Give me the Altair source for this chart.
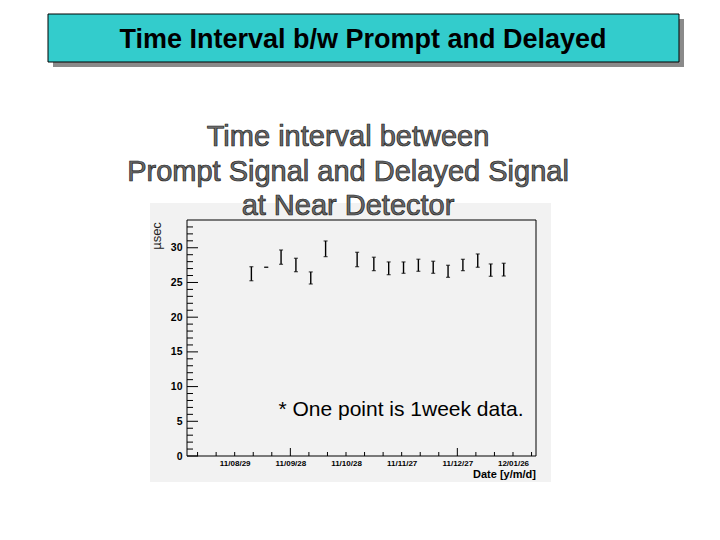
import altair as alt
import pandas as pd

# ---- data ----
dates = ["2011-09-07", "2011-09-15", "2011-09-23", "2011-10-01", "2011-10-09", "2011-10-17",
         "2011-11-03", "2011-11-12", "2011-11-20", "2011-11-28", "2011-12-06", "2011-12-14",
         "2011-12-22", "2011-12-30", "2012-01-07", "2012-01-14", "2012-01-21"]
mean_us = [26.26, 27.19, 28.65, 27.52, 25.65, 29.85, 28.31, 27.67, 27.04, 27.14, 27.48,
           27.19, 26.61, 27.52, 28.15, 26.78, 26.85]
err_us = [1.01, 0.0, 1.03, 0.97, 0.87, 1.13, 1.04, 0.97, 0.92, 0.82, 0.87, 0.87, 0.87,
          0.82, 0.96, 0.89, 0.92]
base_date = "2011-08-29"
tick_days = [0, 30, 60, 90, 120, 150]
tick_labels = ["11/08/29", "11/09/28", "11/10/28", "11/11/27", "11/12/27", "12/01/26"]
y_ticks = [0, 5, 10, 15, 20, 25, 30]

slide_title = "Time Interval b/w Prompt and Delayed"
plot_title = ["Time interval between", "Prompt Signal and Delayed Signal", "at Near Detector"]
note = "* One point is 1week data."

FONT = "Liberation Sans"
W, H = 349, 236
XDOM = [-25.7, 162.4]
YDOM = [0, 34]

df = pd.DataFrame({"date": pd.to_datetime(dates), "mean": mean_us, "err": err_us})
df["day"] = (df["date"] - pd.Timestamp(base_date)).dt.days
df["lo"] = df["mean"] - df["err"]
df["hi"] = df["mean"] + df["err"]

xs = alt.Scale(domain=XDOM, nice=False, zero=False)
ys = alt.Scale(domain=YDOM, nice=False, zero=False)

label_expr = "[" + ",".join("'%s'" % t for t in tick_labels) + "][round(datum.value/30)]"

XA = alt.Axis(values=tick_days, labelExpr=label_expr, ticks=False, domain=False,
              grid=False, labelFont=FONT, labelFontSize=8, labelFontWeight="bold",
              labelColor="black", labelPadding=3, zindex=2, labelOverlap=False)
YA = alt.Axis(values=y_ticks, ticks=False, domain=False, grid=False,
              labelFont=FONT, labelFontSize=10.5, labelFontWeight="bold",
              labelColor="black", labelPadding=5, zindex=2, labelOverlap=False,
              labelFlush=False)


def X(field):
    return alt.X(field, scale=xs, axis=XA, title=None)


def Y(field):
    return alt.Y(field, scale=ys, axis=YA, title=None)


one = pd.DataFrame({"k": [0]})


def deco_text(txt, x, y, **kw):
    return alt.Chart(one).mark_text(font=FONT, baseline="middle", **kw).encode(
        x=alt.value(x), y=alt.value(y), text=alt.value(txt))


# slide title box
shadow = alt.Chart(one).mark_rect(fill="#8a8a8a").encode(
    x=alt.value(-134), x2=alt.value(497), y=alt.value(-201), y2=alt.value(-153))
box = alt.Chart(one).mark_rect(fill="#33CCCC", stroke="black", strokeWidth=1).encode(
    x=alt.value(-139), x2=alt.value(492), y=alt.value(-206), y2=alt.value(-158))
box_text = deco_text(slide_title, 176, -180, fontSize=27, fontWeight="bold",
                     color="black", align="center")

# grey ROOT canvas panel
panel = alt.Chart(one).mark_rect(fill="#f2f2f2").encode(
    x=alt.value(-37), x2=alt.value(364), y=alt.value(-17), y2=alt.value(262))
frame = alt.Chart(one).mark_rect(fill="#f2f2f2", stroke="black", strokeWidth=1).encode(
    x=alt.value(0), x2=alt.value(W), y=alt.value(0), y2=alt.value(H))

# plot title lines
title_layers = [
    deco_text(line, 161, yy, fontSize=29, fill="#6a6a6a", stroke="#1a1a1a",
              strokeWidth=0.7, align="center")
    for line, yy in zip(plot_title, [-83, -48, -14])
]

# error bars
stems = alt.Chart(df).mark_rule(color="black", strokeWidth=1.4).encode(
    x=X("day:Q"), y=Y("lo:Q"), y2="hi:Q")
caps_lo = alt.Chart(df).mark_tick(color="black", orient="horizontal", size=4, thickness=1.2).encode(
    x=X("day:Q"), y=Y("lo:Q"))
caps_hi = alt.Chart(df).mark_tick(color="black", orient="horizontal", size=4, thickness=1.2).encode(
    x=X("day:Q"), y=Y("hi:Q"))

# inward ticks (ROOT style)
ymaj = pd.DataFrame({"v": y_ticks})
ymin = pd.DataFrame({"v": [v for v in range(1, 34) if v % 5 != 0]})
ytick_maj = alt.Chart(ymaj).mark_rule(color="black", strokeWidth=1).encode(
    y=Y("v:Q"), x=alt.value(0), x2=alt.value(11))
ytick_min = alt.Chart(ymin).mark_rule(color="black", strokeWidth=1).encode(
    y=Y("v:Q"), x=alt.value(0), x2=alt.value(6))
xmaj = pd.DataFrame({"v": [30, 120]})
xmin = pd.DataFrame({"v": [v for v in range(-20, 161, 10) if v not in (30, 120)]})
xtick_maj = alt.Chart(xmaj).mark_rule(color="black", strokeWidth=1).encode(
    x=X("v:Q"), y=alt.value(H), y2=alt.value(H - 8))
xtick_min = alt.Chart(xmin).mark_rule(color="black", strokeWidth=1).encode(
    x=X("v:Q"), y=alt.value(H), y2=alt.value(H - 4))

ylab = deco_text("µsec", -30, 16, fontSize=13, color="#222", angle=270, align="center")
xlab = deco_text("Date [y/m/d]", W, 255, fontSize=11, fontWeight="bold", color="black",
                 align="right")
note_txt = deco_text(note, 214, 190, fontSize=21, color="black", align="center")

chart = alt.layer(
    panel, frame, shadow, box, box_text, *title_layers,
    stems, caps_lo, caps_hi,
    ytick_maj, ytick_min, xtick_maj, xtick_min,
    ylab, xlab, note_txt,
).properties(
    width=W, height=H,
    autosize=alt.AutoSizeParams(type="none"),
    padding={"left": 179, "top": 212, "right": 176, "bottom": 76},
    background="white",
).configure_view(stroke=None, fill="#f2f2f2")

chart.save("out.html", embed_options={"renderer": "svg", "actions": False})
